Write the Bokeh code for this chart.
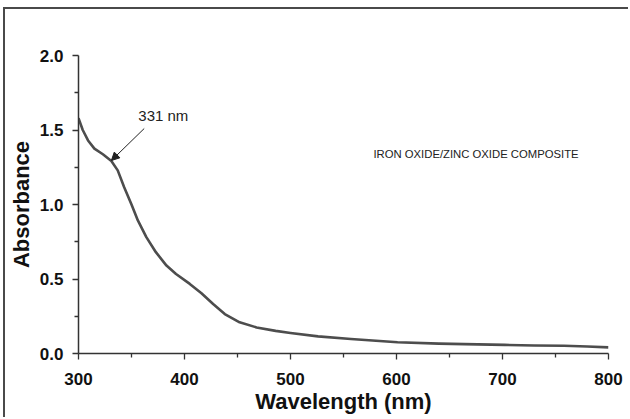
from bokeh.plotting import figure
from bokeh.models import Arrow, NormalHead, Label, FixedTicker
from bokeh.embed import file_html
from bokeh.resources import INLINE

wavelength = [300, 304, 309, 315, 323, 331, 337, 343, 350, 356, 364, 373, 383, 392, 405, 416,
              427, 438, 452, 468, 486, 500, 526, 557, 601, 640, 664, 702, 730, 758, 780, 800]
absorbance = [1.58, 1.50, 1.43, 1.375, 1.337, 1.292, 1.229, 1.117, 1.0, 0.893, 0.781, 0.68, 0.59,
              0.534, 0.467, 0.404, 0.332, 0.265, 0.209, 0.175, 0.152, 0.138, 0.115, 0.097, 0.076,
              0.066, 0.063, 0.058, 0.054, 0.052, 0.047, 0.041]
x_ticks = [300, 400, 500, 600, 700, 800]
x_minor = [350, 450, 550, 650, 750]
y_ticks = [0.0, 0.5, 1.0, 1.5, 2.0]
y_minor = [0.25, 0.75, 1.25, 1.75]
x_title = "Wavelength (nm)"
y_title = "Absorbance"
peak_label = "331 nm"
peak_wavelength = 331
peak_absorbance = 1.295
sample_label = "IRON OXIDE/ZINC OXIDE COMPOSITE"

FONT = "Liberation Sans"
DARK = "#333333"

p = figure(width=625, height=410, x_range=(300, 800), y_range=(0, 2.0),
           output_backend="svg", toolbar_location=None,
           min_border_left=73, min_border_right=22, min_border_top=46, min_border_bottom=66)
p.styles = {"border-top": "2px solid #4a4a4a", "border-left": "2px solid #4a4a4a",
            "margin-left": "3px", "margin-top": "7px"}
p.outline_line_color = None
p.grid.visible = False
p.background_fill_color = "white"
p.border_fill_color = "white"

p.line(wavelength, absorbance, line_color="#4d4d4d", line_width=2.6, line_join="round")

p.xaxis.ticker = FixedTicker(ticks=x_ticks, minor_ticks=x_minor)
p.yaxis.ticker = FixedTicker(ticks=y_ticks, minor_ticks=y_minor)
p.xaxis.major_label_overrides = {v: str(v) for v in x_ticks}
p.yaxis.major_label_overrides = {v: f"{v:.1f}" for v in y_ticks}

for ax in (p.xaxis, p.yaxis):
    ax.axis_line_color = DARK
    ax.axis_line_width = 1.5
    ax.major_tick_line_color = DARK
    ax.minor_tick_line_color = DARK
    ax.major_tick_line_width = 1.3
    ax.minor_tick_line_width = 1.3
    ax.major_tick_out = 6
    ax.major_tick_in = 0
    ax.minor_tick_out = 4
    ax.minor_tick_in = 0
    ax.major_label_text_font = FONT
    ax.major_label_text_font_style = "bold"
    ax.major_label_text_font_size = "17px"
    ax.major_label_text_color = "#111111"
    ax.axis_label_text_font = FONT
    ax.axis_label_text_font_style = "bold"
    ax.axis_label_text_font_size = "22px"
    ax.axis_label_text_color = "#111111"
p.xaxis.major_label_standoff = 13
p.yaxis.major_label_standoff = 9

p.xaxis.axis_label = x_title
p.xaxis.axis_label_standoff = 1
p.yaxis.axis_label = y_title
p.yaxis.axis_label_standoff = 3

p.add_layout(Arrow(end=NormalHead(size=8, fill_color="#222222", line_color="#222222", line_width=1),
                   x_start=362, y_start=1.51, x_end=peak_wavelength, y_end=peak_absorbance,
                   line_color="#222222", line_width=1))
p.add_layout(Label(x=380, y=1.596, text=peak_label, text_align="center", text_baseline="middle",
                   text_font=FONT, text_font_size="15px", text_color="#222222"))
p.add_layout(Label(x=675, y=1.342, text=sample_label, text_align="center", text_baseline="middle",
                   text_font=FONT, text_font_size="11.3px", text_color="#222222"))

open("out.html", "w").write(file_html(p, INLINE))
